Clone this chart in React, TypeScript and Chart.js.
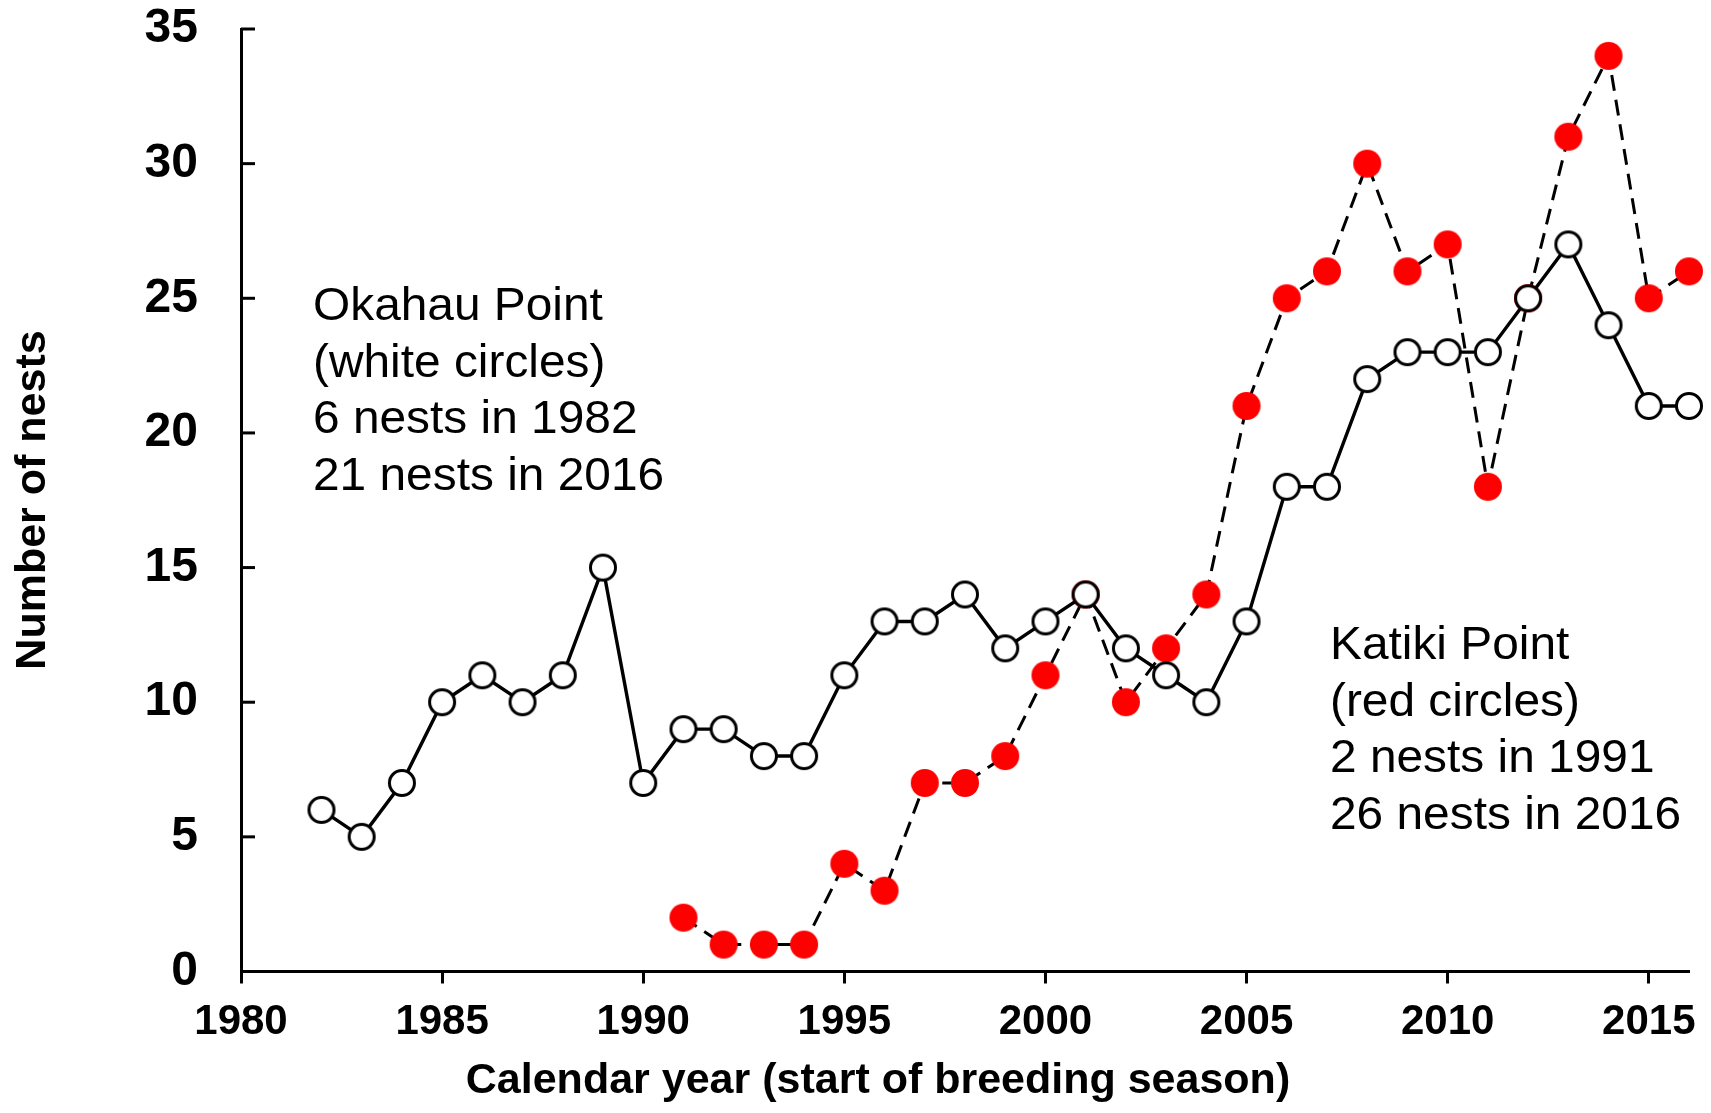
import React, { useEffect, useRef } from "react";
import { Chart, registerables } from "chart.js";

Chart.register(...registerables);

const FONT = "'Liberation Sans', Arial, sans-serif";

// Okahau Point (white circles)
const okahauYears = [
  1982, 1983, 1984, 1985, 1986, 1987, 1988, 1989, 1990, 1991, 1992, 1993,
  1994, 1995, 1996, 1997, 1998, 1999, 2000, 2001, 2002, 2003, 2004, 2005,
  2006, 2007, 2008, 2009, 2010, 2011, 2012, 2013, 2014, 2015, 2016,
];
const okahauNests = [
  6, 5, 7, 10, 11, 10, 11, 15, 7, 9, 9, 8, 8, 11, 13, 13, 14, 12, 13, 14, 12,
  11, 10, 13, 18, 18, 22, 23, 23, 23, 25, 27, 24, 21, 21,
];

// Katiki Point (red circles)
const katikiYears = [
  1991, 1992, 1993, 1994, 1995, 1996, 1997, 1998, 1999, 2000, 2001, 2002,
  2003, 2004, 2005, 2006, 2007, 2008, 2009, 2010, 2011, 2012, 2013, 2014,
  2015, 2016,
];
const katikiNests = [
  2, 1, 1, 1, 4, 3, 7, 7, 8, 11, 14, 10, 12, 14, 21, 25, 26, 30, 26, 27, 18,
  25, 31, 34, 25, 26,
];

const okahauNote = [
  "Okahau Point",
  "(white circles)",
  "6 nests in 1982",
  "21 nests in 2016",
];
const katikiNote = [
  "Katiki Point",
  "(red circles)",
  "2 nests in 1991",
  "26 nests in 2016",
];

const yAxisTitle = "Number of nests";
const xAxisTitle = "Calendar year (start of breeding season)";

function makeCircle(
  fill: string,
  stroke: string | null,
  d: number,
  lw: number
): HTMLCanvasElement {
  const c = document.createElement("canvas");
  c.width = d + 4;
  c.height = d + 4;
  const ctx = c.getContext("2d")!;
  const inset = stroke ? lw / 2 : 0;
  ctx.beginPath();
  ctx.arc(c.width / 2, c.height / 2, d / 2 - inset, 0, Math.PI * 2);
  ctx.fillStyle = fill;
  ctx.fill();
  if (stroke) {
    ctx.lineWidth = lw;
    ctx.strokeStyle = stroke;
    ctx.stroke();
  }
  return c;
}

const zeroPadding = (s: any) => {
  s.paddingTop = 0;
  s.paddingBottom = 0;
  s.paddingLeft = 0;
  s.paddingRight = 0;
};

const decorPlugin = {
  id: "decor",
  beforeDatasetsDraw(chart: any) {
    const ctx = chart.ctx;
    const y = chart.scales.y;
    const left = chart.chartArea.left;
    ctx.save();
    ctx.strokeStyle = "#000";
    ctx.lineWidth = 3;
    y.ticks.forEach((t: any) => {
      if (t.value === 0) return;
      const py = y.getPixelForValue(t.value);
      ctx.beginPath();
      ctx.moveTo(left, py);
      ctx.lineTo(left + 14, py);
      ctx.stroke();
    });
    ctx.restore();
  },
  afterDraw(chart: any) {
    const ctx = chart.ctx;
    ctx.save();
    ctx.fillStyle = "#000";
    // annotations
    ctx.font = `46px ${FONT}`;
    ctx.textAlign = "left";
    ctx.textBaseline = "alphabetic";
    const drawBlock = (lines: string[], x: number, y0: number) => {
      lines.forEach((s, i) => {
        ctx.save();
        ctx.translate(x, y0 + i * 56.5);
        ctx.scale(1.04, 1);
        ctx.fillText(s, 0, 0);
        ctx.restore();
      });
    };
    drawBlock(okahauNote, 313, 320);
    drawBlock(katikiNote, 1330, 659);

    // axis titles
    ctx.font = `bold 43px ${FONT}`;
    ctx.textAlign = "center";
    ctx.fillText(xAxisTitle, 878, 1093);
    ctx.save();
    ctx.translate(45, 500);
    ctx.rotate(-Math.PI / 2);
    ctx.fillText(yAxisTitle, 0, 0);
    ctx.restore();
    ctx.restore();
  },
};

export default function App() {
  const ref = useRef<HTMLCanvasElement | null>(null);

  useEffect(() => {
    if (!ref.current) return;
    const whiteDot = makeCircle("#ffffff", "#000000", 28, 3);
    const redDot = makeCircle("#ff0000", null, 28, 0);

    const chart = new Chart(ref.current, {
      type: "line",
      data: {
        datasets: [
          {
            label: "Okahau Point",
            data: okahauYears.map((x, i) => ({ x, y: okahauNests[i] })),
            borderColor: "#000",
            borderWidth: 3.4,
            pointStyle: whiteDot as any,
            pointRadius: 14,
            tension: 0,
            order: 0,
            clip: false as any,
          },
          {
            label: "Katiki Point",
            data: katikiYears.map((x, i) => ({ x, y: katikiNests[i] })),
            borderColor: "#000",
            borderWidth: 3,
            borderDash: [16, 9],
            pointStyle: redDot as any,
            pointRadius: 14,
            tension: 0,
            order: 1,
            clip: false as any,
          },
        ],
      },
      options: {
        responsive: false,
        animation: false,
        devicePixelRatio: 1,
        layout: { padding: { top: 29, right: 22, left: 0, bottom: 0 } },
        plugins: {
          legend: { display: false },
          tooltip: { enabled: false },
        },
        scales: {
          x: {
            type: "linear",
            min: 1980,
            max: 2016,
            ticks: {
              stepSize: 5,
              includeBounds: false,
              autoSkip: false,
              maxRotation: 0,
              padding: 14,
              color: "#000",
              font: { family: FONT, size: 42, weight: "bold" },
              callback: (v: any) => String(v),
            } as any,
            grid: {
              display: true,
              drawOnChartArea: false,
              drawTicks: true,
              tickLength: 12,
              tickWidth: 3,
              tickColor: "#000",
              color: "#000",
            },
            border: { display: true, color: "#000", width: 3 },
            afterFit: (s: any) => {
              s.height = 141.5;
              zeroPadding(s);
            },
          },
          y: {
            type: "linear",
            min: 0,
            max: 35,
            ticks: {
              stepSize: 5,
              padding: 35,
              color: "#000",
              font: { family: FONT, size: 48, weight: "bold" },
              callback: (v: any) => String(v),
            },
            grid: { display: false },
            border: { display: true, color: "#000", width: 3 },
            afterFit: (s: any) => {
              s.width = 241;
              zeroPadding(s);
            },
          },
        },
      },
      plugins: [decorPlugin],
    });
    return () => chart.destroy();
  }, []);

  return (
    <div style={{ position: "absolute", left: 0, top: 0, width: 1711, height: 1113, background: "#fff" }}>
      <canvas ref={ref} width={1711} height={1113} style={{ display: "block" }} />
    </div>
  );
}
